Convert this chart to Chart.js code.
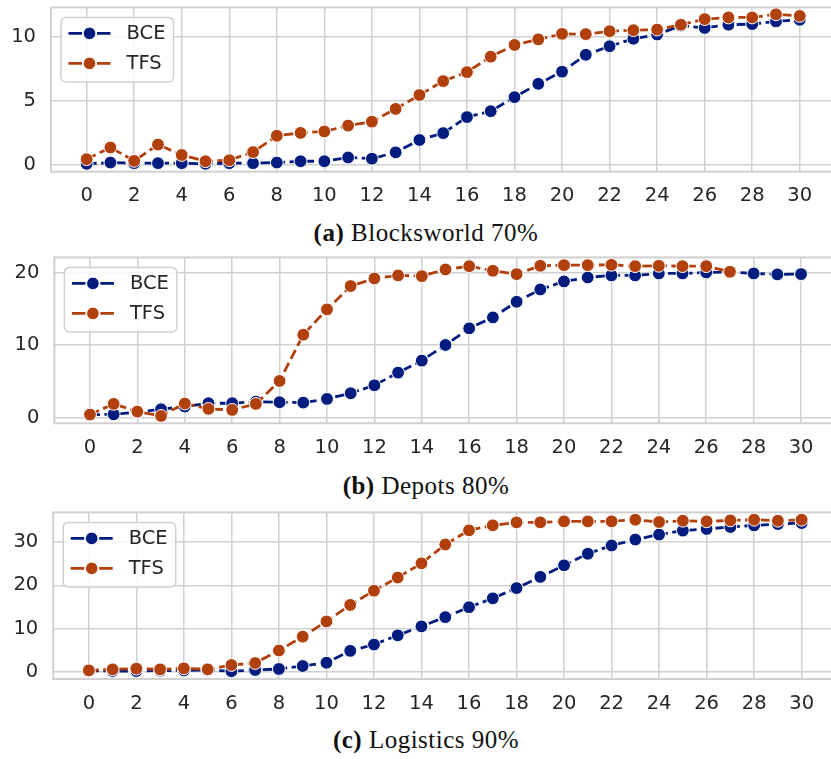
<!DOCTYPE html>
<html>
<head>
<meta charset="utf-8">
<script src="https://cdn.jsdelivr.net/npm/chart.js@4/dist/chart.umd.min.js"></script>
<style>
  html, body { margin: 0; padding: 0; background: #ffffff; overflow: hidden; }
  #wrap { position: relative; width: 831px; height: 759px; overflow: hidden; }
  .panel { position: absolute; left: 0; }
  .cap { position: absolute; left: 0; width: 852px; text-align: center;
         font-family: "Liberation Serif", "Times New Roman", serif; font-size: 25px;
         line-height: 25px; color: #111; letter-spacing: 0.5px; white-space: nowrap; }
  .cap b { font-weight: bold; }
</style>
</head>
<body>
<div id="wrap">
  <div class="panel" style="top:0px"><canvas id="ca" width="860" height="205" style="width:860px;height:205px"></canvas></div>
  <div class="cap" style="top:220px"><b>(a)</b> Blocksworld 70%</div>
  <div class="panel" style="top:250px"><canvas id="cb" width="860" height="205" style="width:860px;height:205px"></canvas></div>
  <div class="cap" style="top:473px"><b>(b)</b> Depots 80%</div>
  <div class="panel" style="top:505px"><canvas id="cc" width="860" height="205" style="width:860px;height:205px"></canvas></div>
  <div class="cap" style="top:727px"><b>(c)</b> Logistics 90%</div>
</div>
<script>
// ---------- data ----------
const steps = [0,1,2,3,4,5,6,7,8,9,10,11,12,13,14,15,16,17,18,19,20,21,22,23,24,25,26,27,28,29,30];
const xTickLabels = [0,2,4,6,8,10,12,14,16,18,20,22,24,26,28,30];
const seriesNames = ["BCE", "TFS"];

const blocksBCE = [0.05,0.15,0.1,0.1,0.1,0.05,0.1,0.1,0.15,0.25,0.25,0.55,0.45,0.95,1.92,2.46,3.72,4.18,5.28,6.33,7.28,8.61,9.28,9.87,10.2,10.9,10.72,10.97,11.02,11.23,11.36];
const blocksTFS = [0.41,1.33,0.28,1.56,0.74,0.25,0.33,0.97,2.25,2.48,2.59,3.05,3.36,4.36,5.45,6.54,7.25,8.46,9.38,9.82,10.25,10.23,10.46,10.54,10.59,10.97,11.41,11.54,11.54,11.79,11.66];
const blocksYTicks = [0,5,10];

const depotsBCE = [0.4,0.45,0.74,1.15,1.52,1.98,1.98,2.21,2.12,2.07,2.58,3.36,4.46,6.21,7.87,10.03,12.33,13.84,16.0,17.7,18.81,19.36,19.64,19.64,19.91,19.91,20.05,20.14,19.91,19.78,19.82];
const depotsTFS = [0.42,1.89,0.83,0.23,1.94,1.2,1.06,1.89,5.06,11.45,14.95,18.17,19.22,19.64,19.54,20.46,20.92,20.28,19.82,20.97,21.06,21.06,21.1,20.92,20.97,20.92,20.92,20.14,null,null,null];
const depotsYTicks = [0,10,20];

const logisticsBCE = [0.2,0.15,0.15,0.24,0.3,0.39,0.1,0.39,0.62,1.31,2.07,4.82,6.28,8.42,10.49,12.63,14.93,16.99,19.36,21.96,24.64,27.32,29.23,30.61,31.76,32.68,33.06,33.52,33.9,34.2,34.43];
const logisticsTFS = [0.3,0.54,0.7,0.54,0.77,0.54,1.54,2.0,4.9,8.12,11.64,15.46,18.75,21.81,25.1,29.46,32.75,33.9,34.59,34.59,34.82,34.82,34.82,35.2,34.67,34.97,34.82,35.05,35.2,34.97,35.2];
const logisticsYTicks = [0,10,20,30];

// ---------- style ----------
const COLORS = ["#001c7f", "#b1400d"];
const GRID = "#d0d0d0";
const TEXT = "#262626";
const FONT = { family: "DejaVu Sans", size: 19.5 };
const DASH = [10, 4.5];

const CANVAS_W = 860, CANVAS_H = 205;

function toPoints(vals) {
  return steps.map((x, i) => ({ x: x, y: vals[i] }));
}

function zeroPad(s) {
  s.paddingTop = 0; s.paddingBottom = 0; s.paddingLeft = 0; s.paddingRight = 0;
}

const framePlugin = {
  id: "frameAndLegend",
  beforeDatasetsDraw(chart) {
    const a = chart.chartArea, ctx = chart.ctx;
    ctx.save();
    ctx.strokeStyle = GRID;
    ctx.lineWidth = 2;
    ctx.strokeRect(a.left, a.top, a.right - a.left, a.bottom - a.top);
    ctx.restore();
  },
  afterDatasetsDraw(chart) {
    const a = chart.chartArea, ctx = chart.ctx;
    const bx = a.left + 10, by = a.top + 10, bw = 112.5, bh = 64.5, r = 5;
    ctx.save();
    ctx.beginPath();
    ctx.moveTo(bx + r, by);
    ctx.arcTo(bx + bw, by, bx + bw, by + bh, r);
    ctx.arcTo(bx + bw, by + bh, bx, by + bh, r);
    ctx.arcTo(bx, by + bh, bx, by, r);
    ctx.arcTo(bx, by, bx + bw, by, r);
    ctx.closePath();
    ctx.fillStyle = "rgba(255,255,255,0.85)";
    ctx.fill();
    ctx.strokeStyle = GRID;
    ctx.lineWidth = 1.5;
    ctx.stroke();
    seriesNames.forEach((name, i) => {
      const y = by + 16 + i * 30;
      ctx.strokeStyle = COLORS[i];
      ctx.lineWidth = 2.8;
      ctx.setLineDash([]);
      ctx.beginPath();
      ctx.moveTo(bx + 7.5, y); ctx.lineTo(bx + 21, y);
      ctx.moveTo(bx + 36, y); ctx.lineTo(bx + 49.5, y);
      ctx.stroke();
      ctx.beginPath();
      ctx.arc(bx + 28.5, y, 6.3, 0, Math.PI * 2);
      ctx.fillStyle = COLORS[i];
      ctx.fill();
      ctx.strokeStyle = "#ffffff";
      ctx.lineWidth = 1;
      ctx.stroke();
      ctx.fillStyle = TEXT;
      ctx.font = FONT.size + 'px "' + FONT.family + '"';
      ctx.textBaseline = "middle";
      ctx.textAlign = "left";
      ctx.fillText(name, bx + 65.5, y + 1);
    });
    ctx.restore();
  }
};

function makePanel(canvasId, spec) {
  const datasets = [spec.bce, spec.tfs].map((vals, i) => ({
    label: seriesNames[i],
    data: toPoints(vals),
    borderColor: COLORS[i],
    backgroundColor: COLORS[i],
    borderWidth: 2.8,
    borderDash: DASH,
    pointRadius: 6.4,
    pointHoverRadius: 6.4,
    pointBackgroundColor: COLORS[i],
    pointBorderColor: "#ffffff",
    pointBorderWidth: 1,
    spanGaps: false,
    tension: 0,
    order: 2 - i
  }));
  return new Chart(document.getElementById(canvasId), {
    type: "line",
    data: { datasets: datasets },
    options: {
      responsive: false,
      animation: false,
      devicePixelRatio: 1,
      layout: { padding: { top: spec.plotTop - spec.top, left: 0, right: CANVAS_W - spec.plotRight, bottom: 0 } },
      plugins: { legend: { display: false }, tooltip: { enabled: false } },
      events: [],
      scales: {
        x: {
          type: "linear",
          min: -1.5, max: 31.5,
          afterBuildTicks: s => { s.ticks = xTickLabels.map(v => ({ value: v })); },
          afterFit: s => { s.height = (spec.top + CANVAS_H) - spec.plotBottom; zeroPad(s); },
          grid: { color: GRID, lineWidth: 1.5, drawTicks: false },
          border: { display: false },
          ticks: { color: TEXT, font: FONT, padding: 13, maxRotation: 0, autoSkip: false }
        },
        y: {
          type: "linear",
          min: spec.yMin, max: spec.yMax,
          afterBuildTicks: s => { s.ticks = spec.yTicks.map(v => ({ value: v })); },
          afterFit: s => { s.width = spec.plotLeft; zeroPad(s); },
          grid: { color: GRID, lineWidth: 1.5, drawTicks: false },
          border: { display: false },
          ticks: { color: TEXT, font: FONT, padding: 15 }
        }
      }
    },
    plugins: [framePlugin]
  });
}

makePanel("ca", { top: 0, plotTop: 4, plotBottom: 171.7, plotLeft: 51, plotRight: 835.4,
  yMin: -0.57, yMax: 12.33, yTicks: blocksYTicks, bce: blocksBCE, tfs: blocksTFS });
makePanel("cb", { top: 250, plotTop: 257.3, plotBottom: 423.3, plotLeft: 54.4, plotRight: 836.6,
  yMin: -0.79, yMax: 22.13, yTicks: depotsYTicks, bce: depotsBCE, tfs: depotsTFS });
makePanel("cc", { top: 505, plotTop: 511, plotBottom: 679, plotLeft: 53.2, plotRight: 837.3,
  yMin: -1.7, yMax: 36.9, yTicks: logisticsYTicks, bce: logisticsBCE, tfs: logisticsTFS });
</script>
</body>
</html>
